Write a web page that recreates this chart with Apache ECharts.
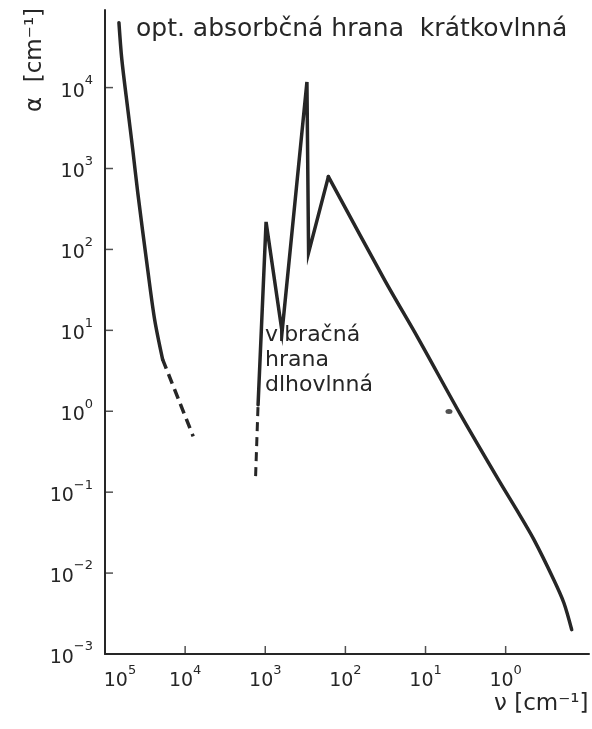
<!DOCTYPE html>
<html>
<head>
<meta charset="utf-8">
<script src="https://cdn.jsdelivr.net/npm/echarts@6/dist/echarts.min.js"></script>
<style>
  html, body { margin: 0; padding: 0; background: #fff; }
  #chart { width: 592px; height: 729px; }
</style>
</head>
<body>
<div id="chart"></div>
<script>
// wave number nu [cm^-1] and absorption alpha [cm^-1]
const optNu = [67000, 61700, 51900, 45000, 39000, 29300, 24000, 19100];
const optAlpha = [63500, 22400, 5370, 1700, 501, 56, 13.5, 4.37];
const optDashNu = [19100, 11700, 7940];
const optDashAlpha = [4.37, 1.29, 0.49];

const vibDashNu = [1320, 1230];
const vibDashAlpha = [0.158, 1.2];
const vibNu = [1230, 977, 617, 302, 288, 163];
const vibAlpha = [1.2, 219, 9.55, 11750, 91.2, 794];
const tailNu = [163, 32.1, 12.5, 3.66, 1.17, 0.719, 0.444, 0.251, 0.188, 0.150];
const tailAlpha = [794, 41.1, 8.13, 0.908, 0.131, 0.059, 0.0259, 0.00828, 0.0043, 0.0020];

const dotNu = [5.1];
const dotAlpha = [0.99];

// labelled decades
const xLabelExp = [5, 4, 3, 2, 1, 0];
const yLabelExp = [-3, -2, -1, 0, 1, 2, 3, 4];
const xTicks = [10000, 1000, 100, 10, 1];
const yTicks = [0.01, 0.1, 1, 10, 100, 1000, 10000];

const xMin = 0.0912, xMax = 100000;
const yMin = 0.001, yMax = 91000;

const ink = '#262626';
const font = 'DejaVu Sans';

function zip(a, b) {
    return a.map(function (v, i) { return [v, b[i]]; });
}

// exact decades do not get drawn as marks here, so nudge them by a hair
function near(v) { return v * 1.0001; }

function powLabel(exps) {
    return function (v) {
        let l = Math.log10(v);
        let e = Math.round(l);
        if (Math.abs(l - e) > 0.01 || exps.indexOf(e) < 0) return '';
        let s = e < 0 ? '\u2212' + (-e) : '' + e;
        let base = e === 5 ? 'b5' : 'b';
        return '{' + base + '|10}{e|' + s + '}';
    };
}

const rich = {
    b: { fontSize: 19, fontFamily: font, color: ink, padding: [8, 0, 0, 0] },
    b5: { fontSize: 19, fontFamily: font, color: ink, padding: [8, 0, 0, 30] },
    e: { fontSize: 13, fontFamily: font, color: ink, verticalAlign: 'top' }
};

const solid = { color: ink, width: 3.5, cap: 'round', join: 'miter' };

const chart = echarts.init(document.getElementById('chart'));

chart.setOption({
    animation: false,
    backgroundColor: '#fff',
    grid: { left: 105, right: 0, top: 10, bottom: 75 },
    xAxis: {
        type: 'log', logBase: 10, inverse: true, min: xMin, max: xMax,
        axisLine: { show: true, lineStyle: { color: ink, width: 2 } },
        axisTick: { show: false },
        axisLabel: { margin: 10, formatter: powLabel(xLabelExp), rich: rich, showMinLabel: true, showMaxLabel: true },
        splitLine: { show: false }
    },
    yAxis: {
        type: 'log', logBase: 10, min: yMin, max: yMax,
        axisLine: { show: true, lineStyle: { color: ink, width: 2 } },
        axisTick: { show: false },
        axisLabel: { margin: 12, formatter: powLabel(yLabelExp), rich: rich, showMinLabel: true, showMaxLabel: true },
        splitLine: { show: false }
    },
    series: [
        // inward tick marks, placed through the axes' own scales
        {
            type: 'scatter', silent: true, symbol: 'rect',
            symbolSize: [1.5, 8], symbolOffset: [0, -4], itemStyle: { color: ink },
            data: xTicks.map(function (v) { return [near(v), near(yMin)]; })
        },
        {
            type: 'scatter', silent: true, symbol: 'rect',
            symbolSize: [8, 1.5], symbolOffset: [4, 0], itemStyle: { color: ink },
            data: yTicks.map(function (v) { return [xMax * 0.9999, near(v)]; })
        },
        {
            type: 'line', data: zip(optNu, optAlpha), smooth: 0.3, showSymbol: false, silent: true,
            lineStyle: solid
        },
        {
            type: 'line', data: zip(optDashNu, optDashAlpha), smooth: 0.3, showSymbol: false, silent: true,
            lineStyle: { color: ink, width: 3.5, type: [10, 6] }
        },
        {
            type: 'line', data: zip(vibDashNu, vibDashAlpha), showSymbol: false, silent: true,
            lineStyle: { color: ink, width: 3, type: [9, 6] }
        },
        {
            type: 'line', data: zip(vibNu, vibAlpha), showSymbol: false, silent: true,
            lineStyle: solid
        },
        {
            type: 'line', data: zip(tailNu, tailAlpha), smooth: 0.3, showSymbol: false, silent: true,
            lineStyle: solid
        },
        {
            type: 'scatter', data: zip(dotNu, dotAlpha), symbol: 'circle', symbolSize: [7, 5], silent: true,
            itemStyle: { color: ink }
        }
    ],
    graphic: [
        {
            type: 'text', left: 136, top: 17,
            style: { text: 'opt. absorbčná hrana  krátkovlnná', font: '25px "' + font + '"', fill: ink }
        },
        {
            type: 'text', left: 265, top: 323,
            style: { text: 'vibračná\nhrana\ndlhovlnná', font: '22px "' + font + '"', lineHeight: 25, fill: ink }
        },
        {
            type: 'text', x: 35, y: 60, rotation: Math.PI / 2,
            style: { text: 'α  [cm⁻¹]', font: '23px "' + font + '"', fill: ink, align: 'center', verticalAlign: 'middle' }
        },
        {
            type: 'text', left: 494, top: 693,
            style: { text: 'ν [cm⁻¹]', font: '23px "' + font + '"', fill: ink }
        }
    ]
});
</script>
</body>
</html>
